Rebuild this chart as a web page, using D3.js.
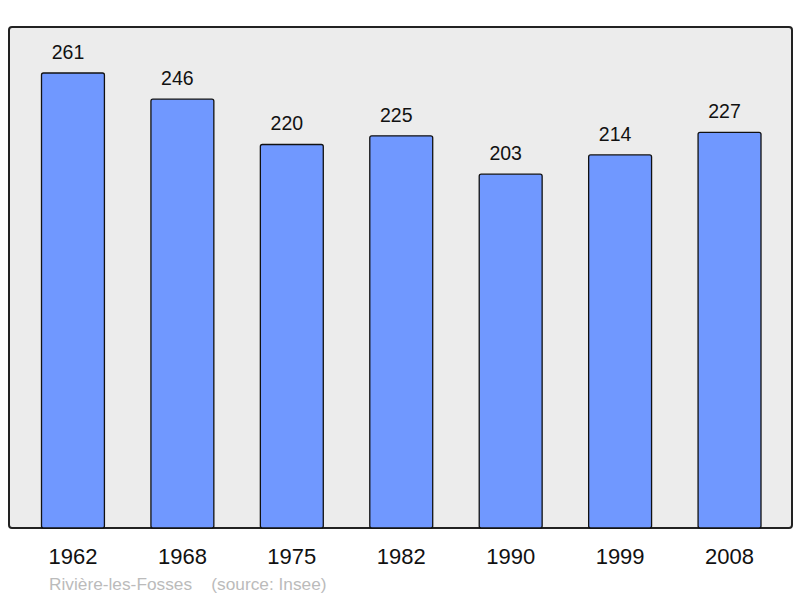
<!DOCTYPE html>
<html><head><meta charset="utf-8">
<script src="https://cdn.jsdelivr.net/npm/d3@7"></script>
<style>body{margin:0;background:#fff}svg{display:block}</style>
</head><body>
<script>
const years = ["1962","1968","1975","1982","1990","1999","2008"];
const population = [261,246,220,225,203,214,227];
const title = "Rivière-les-Fosses";
const source = "(source: Insee)";

const W=800,H=598;
const svg=d3.select("body").append("svg").attr("width",W).attr("height",H);
const px0=9, px1=792, py0=27, py1=528;
svg.append("rect").attr("x",px0).attr("y",py0).attr("width",px1-px0).attr("height",py1-py0)
  .attr("rx",3).attr("fill","#ececec").attr("stroke","#222").attr("stroke-width",2);

const x=d3.scaleBand().domain(years).range([41.5,761]).paddingInner(0.425).paddingOuter(0);
const y=d3.scaleLinear().domain([0,287.4]).range([py1,py0]);

svg.selectAll("rect.bar").data(population).join("rect").attr("class","bar")
  .attr("x",(d,i)=>x(years[i])).attr("y",d=>y(d)).attr("width",x.bandwidth()).attr("height",d=>py1-y(d))
  .attr("rx",2).attr("fill","#7098ff").attr("stroke","#111").attr("stroke-width",1.3);

svg.selectAll("text.val").data(population).join("text").attr("class","val")
  .attr("x",(d,i)=>x(years[i])+x.bandwidth()/2-5).attr("y",d=>y(d)-14)
  .attr("text-anchor","middle").attr("font-family","Liberation Sans, Arial, sans-serif")
  .attr("font-size",19.5).attr("fill","#111").text(d=>d);

const xAxis=d3.axisBottom(x).tickSize(0).tickPadding(0);
const g=svg.append("g").attr("transform",`translate(0,${py1})`).call(xAxis);
g.select(".domain").remove();
g.selectAll("text").attr("y",36).attr("dy",0).attr("font-family","Liberation Sans, Arial, sans-serif")
  .attr("font-size",22).attr("fill","#111");

svg.append("text").attr("x",49).attr("y",590).attr("font-family","Liberation Sans, Arial, sans-serif")
  .attr("font-size",17.3).attr("fill","#bbb").attr("xml:space","preserve").text(title+"    "+source);
</script>
</body></html>
